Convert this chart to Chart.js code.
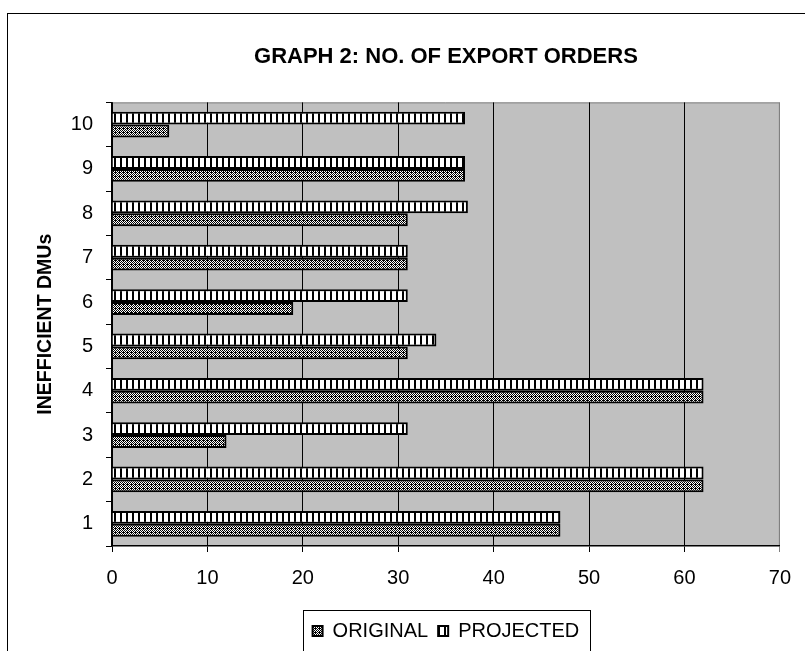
<!DOCTYPE html>
<html>
<head>
<meta charset="utf-8">
<script src="https://cdn.jsdelivr.net/npm/chart.js@4"></script>
<style>
  html, body { margin: 0; padding: 0; background: #fff; }
  #wrap { width: 805px; height: 651px; }
</style>
</head>
<body>
<div id="wrap"><canvas id="graph2" width="805" height="651"></canvas></div>
<script>
    // DMU numbers and export order counts
    const dmuLabels = ['1', '2', '3', '4', '5', '6', '7', '8', '9', '10'];
    const originalOrders = [47, 62, 12, 62, 31, 19, 31, 31, 37, 6];
    const projectedOrders = [47, 62, 31, 62, 34, 31, 31, 37.3, 37, 37];
    const xTicks = [0, 10, 20, 30, 40, 50, 60, 70];

    const canvas = document.getElementById('graph2');
    const ctx = canvas.getContext('2d');

    // Fine dotted fill used for the ORIGINAL bars.
    function dotPattern() {
      const c = document.createElement('canvas');
      c.width = 4; c.height = 4;
      const p = c.getContext('2d');
      p.fillStyle = '#ffffff';
      p.fillRect(0, 0, 4, 4);
      p.fillStyle = '#000000';
      [[0,0],[2,0],[1,1],[3,1],[0,2],[2,2],[1,3],[3,3],[3,0]].forEach(([x, y]) => p.fillRect(x, y, 1, 1));
      return ctx.createPattern(c, 'repeat');
    }

    // Vertical black stripes used for the PROJECTED bars.
    function stripePattern() {
      const c = document.createElement('canvas');
      c.width = 6; c.height = 6;
      const p = c.getContext('2d');
      p.fillStyle = '#ffffff';
      p.fillRect(0, 0, 6, 6);
      p.fillStyle = '#000000';
      p.fillRect(0, 0, 2, 6);
      return ctx.createPattern(c, 'repeat');
    }

    // Grey plot area, its top/right edge and the outer chart frame.
    const framePlugin = {
      id: 'frame',
      beforeDraw: function(chart) {
        const a = chart.chartArea;
        const c = chart.ctx;
        c.save();
        c.fillStyle = '#c0c0c0';
        c.fillRect(a.left, a.top, a.right - a.left, a.bottom - a.top);
        c.strokeStyle = '#808080';
        c.lineWidth = 1;
        c.beginPath();
        c.moveTo(a.left, a.top + 0.5);
        c.lineTo(a.right - 0.5, a.top + 0.5);
        c.lineTo(a.right - 0.5, a.bottom);
        c.stroke();
        c.restore();
      },
      afterDraw: function(chart) {
        const c = chart.ctx;
        c.save();
        c.strokeStyle = '#000000';
        c.lineWidth = 1;
        c.strokeRect(7.5, 13.5, 820, 660);
        // box round the legend
        const boxes = chart.legend.legendHitBoxes;
        if (boxes && boxes.length) {
          const left = Math.min(...boxes.map(b => b.left));
          const right = Math.max(...boxes.map(b => b.left + b.width));
          const top = Math.min(...boxes.map(b => b.top));
          c.strokeRect(Math.round(left - 10) + 0.5, Math.round(top - 11) + 0.5, Math.round(right - left + 20), 60);
        }
        c.restore();
      }
    };

    const chart = new Chart(ctx, {
      type: 'bar',
      data: {
        labels: dmuLabels,
        // projected listed first so it sits above the original bar in each row
        datasets: [{
          label: 'PROJECTED',
          data: projectedOrders,
          backgroundColor: stripePattern(),
          borderColor: '#000000',
          borderWidth: 2
        }, {
          label: 'ORIGINAL',
          data: originalOrders,
          backgroundColor: dotPattern(),
          borderColor: '#000000',
          borderWidth: 2
        }]
      },
      options: {
        indexAxis: 'y',
        responsive: false,
        animation: false,
        devicePixelRatio: 1,
        layout: { padding: { top: 10, left: 20, right: 18, bottom: 0 } },
        datasets: { bar: { categoryPercentage: 0.58, barPercentage: 1.0 } },
        scales: {
          x: {
            min: 0,
            max: 70,
            afterBuildTicks: function(scale) {
              scale.ticks = xTicks.map(v => ({ value: v }));
            },
            afterFit: function(scale) { scale.height = 65; },
            ticks: {
              color: '#000',
              font: { family: 'Arial, "Liberation Sans"', size: 20 },
              padding: 14
            },
            grid: {
              color: ctx => (ctx.tick && ctx.tick.value === 70) ? '#808080' : '#000000',
              lineWidth: 1,
              tickLength: 6,
              drawOnChartArea: true
            },
            border: { color: '#000000', width: 1.5 }
          },
          y: {
            reverse: true,
            offset: true,
            afterFit: function(scale) { scale.width = 92; },
            title: {
              display: true,
              text: 'INEFFICIENT DMUs',
              color: '#000',
              font: { family: 'Arial, "Liberation Sans"', size: 19.5, weight: 'bold' },
              padding: { top: 14, bottom: 4 }
            },
            ticks: {
              color: '#000',
              font: { family: 'Arial, "Liberation Sans"', size: 20 },
              padding: 13
            },
            grid: {
              offset: true,
              drawOnChartArea: false,
              color: '#000000',
              tickLength: 6
            },
            border: { color: '#000000', width: 1.5 }
          }
        },
        plugins: {
          title: {
            display: true,
            text: 'GRAPH 2: NO. OF EXPORT ORDERS',
            color: '#000',
            fullSize: false,
            font: { family: 'Arial, "Liberation Sans"', size: 22, weight: 'bold' },
            padding: { top: 34, bottom: 32 }
          },
          legend: {
            display: true,
            position: 'bottom',
            fullSize: false,
            reverse: true,
            labels: {
              color: '#000',
              font: { family: 'Arial, "Liberation Sans"', size: 20 },
              boxWidth: 10,
              boxHeight: 10,
              padding: 10
            }
          },
          tooltip: { enabled: false }
        }
      },
      plugins: [framePlugin]
    });
</script>
</body>
</html>
